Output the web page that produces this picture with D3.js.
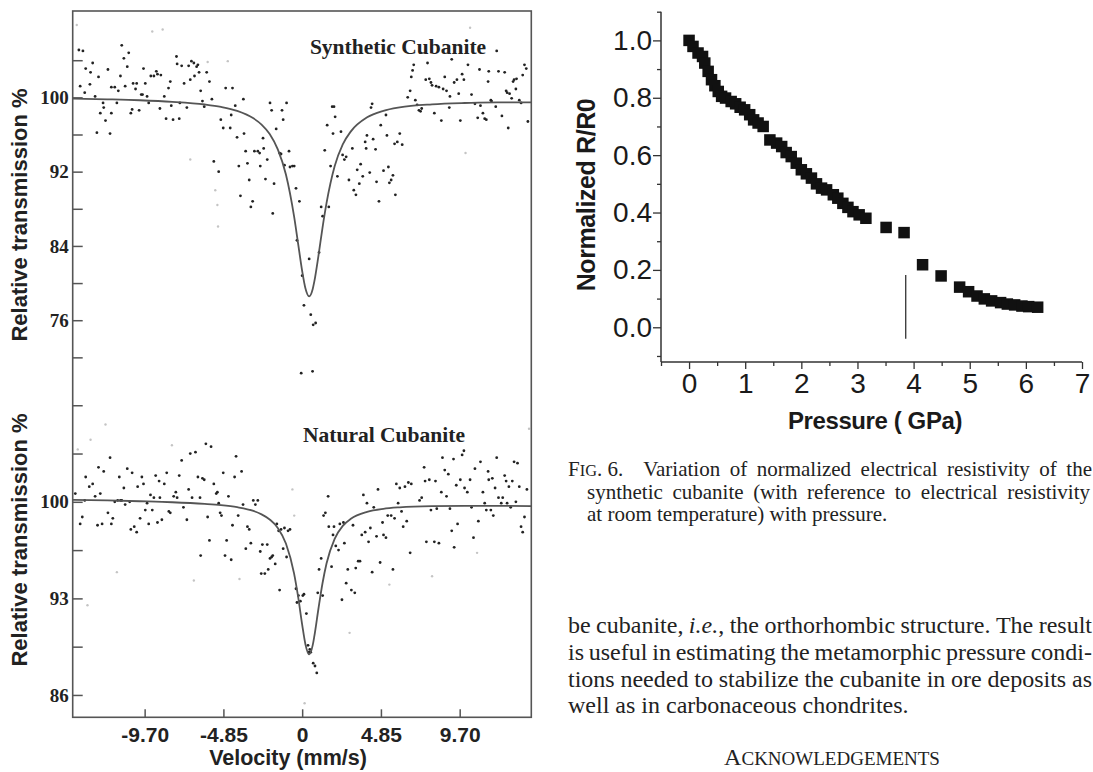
<!DOCTYPE html>
<html><head><meta charset="utf-8">
<script src="https://cdn.jsdelivr.net/npm/d3@7"></script>
<style>html,body{margin:0;padding:0;background:#fff;} svg{display:block;}</style>
</head><body>
<svg id="fig" width="1093" height="772"></svg>
<script>
// ---------- Mössbauer spectra: [velocity mm/s, relative transmission %] ----------
const synthPoints = [[-13.75,105.1],[-13.50,105.0],[-13.67,101.2],[-13.39,100.5],[-13.33,103.1],[-13.03,102.7],[-13.07,101.4],[-12.90,103.7],[-12.75,100.1],[-12.64,96.2],[-12.54,102.2],[-12.43,98.3],[-12.22,98.9],[-12.26,99.4],[-12.11,97.5],[-11.96,103.0],[-11.83,96.1],[-11.75,98.3],[-11.75,101.1],[-11.54,101.1],[-11.41,99.4],[-11.32,100.7],[-11.19,102.3],[-11.11,105.6],[-10.98,104.2],[-10.90,101.2],[-10.77,103.3],[-10.68,104.8],[-10.55,98.3],[-10.47,98.7],[-10.41,101.5],[-10.19,101.5],[-10.26,100.9],[-10.04,98.6],[-9.91,100.3],[-9.83,100.3],[-9.77,103.1],[-9.66,101.5],[-9.55,100.1],[-9.45,99.4],[-9.32,102.3],[-9.13,102.3],[-8.98,102.8],[-8.91,102.5],[-8.76,98.8],[-8.70,102.4],[-8.49,100.1],[-8.38,97.7],[-8.23,101.0],[-8.12,101.7],[-8.06,99.1],[-7.95,97.6],[-7.74,104.4],[-7.70,103.6],[-7.57,97.7],[-7.53,99.4],[-7.42,103.4],[-7.27,101.5],[-7.10,98.9],[-6.99,103.4],[-6.89,101.9],[-6.82,103.9],[-6.67,103.7],[-6.63,102.3],[-6.50,103.3],[-6.42,103.5],[-6.35,102.7],[-6.25,100.7],[-6.14,99.6],[-6.03,99.0],[-5.88,102.7],[-5.71,101.7],[-5.56,99.8],[-5.44,93.1],[-5.14,92.0],[-5.01,97.6],[-4.86,96.7],[-4.71,101.0],[-4.43,96.7],[-4.37,98.1],[-4.29,101.0],[-4.12,99.1],[-4.01,95.7],[-3.90,92.6],[-3.80,89.4],[-3.62,99.8],[-3.58,96.1],[-3.48,94.2],[-3.37,92.9],[-3.26,91.1],[-3.16,88.2],[-3.05,88.8],[-2.94,94.2],[-2.73,94.2],[-2.62,94.0],[-2.58,92.6],[-2.41,95.6],[-2.37,94.5],[-2.26,91.2],[-2.15,93.3],[-1.98,99.4],[-1.88,98.6],[-1.81,87.5],[-1.73,90.7],[-1.60,96.6],[-1.39,94.0],[-1.30,93.9],[-1.24,98.6],[-1.17,97.6],[-1.09,92.7],[-0.96,99.4],[-0.81,94.2],[-0.75,92.5],[-0.60,92.6],[-0.49,92.6],[-0.38,90.2],[-0.17,88.8],[-0.32,84.6],[0.00,80.8],[0.11,77.6],[0.43,82.6],[0.53,76.6],[0.68,75.5],[0.83,75.7],[-0.06,70.3],[0.64,70.5],[1.04,83.3],[1.17,88.2],[1.26,87.2],[1.39,94.3],[1.54,97.0],[1.64,88.2],[1.75,92.6],[1.85,99.0],[1.96,99.0],[1.90,96.1],[2.03,97.9],[2.17,91.5],[2.39,96.3],[2.49,93.8],[2.60,93.3],[2.71,93.6],[2.88,91.1],[3.09,94.5],[3.18,90.0],[3.31,89.5],[3.39,92.2],[3.52,90.7],[3.60,92.8],[3.73,91.5],[3.88,95.2],[3.94,94.5],[3.99,95.9],[4.16,91.9],[4.24,98.9],[4.31,99.3],[4.37,95.5],[4.52,94.4],[4.58,90.9],[4.73,88.8],[4.84,97.0],[5.01,92.1],[5.16,98.1],[5.22,95.9],[5.31,92.5],[5.37,90.8],[5.48,91.1],[5.59,91.6],[5.74,89.5],[5.69,95.0],[5.86,95.2],[6.01,96.1],[6.16,94.9],[6.50,100.0],[6.65,100.7],[6.72,102.2],[6.80,102.9],[6.87,103.5],[6.97,99.7],[7.08,99.2],[7.19,98.6],[7.29,98.5],[7.36,98.8],[7.61,101.9],[7.72,103.7],[7.83,102.0],[7.93,101.6],[8.00,101.3],[8.14,98.3],[8.25,101.2],[8.42,101.1],[8.57,97.5],[8.68,100.9],[8.78,102.2],[8.89,100.7],[9.06,98.9],[9.10,100.1],[9.21,104.1],[9.36,101.6],[9.53,101.9],[9.64,100.4],[9.74,97.5],[9.85,102.5],[9.96,101.9],[10.21,103.5],[10.43,100.3],[10.64,99.3],[10.81,97.8],[10.92,103.0],[10.98,99.1],[11.13,98.3],[11.24,97.7],[11.34,97.6],[11.45,101.7],[11.49,102.8],[11.62,99.7],[11.66,99.6],[11.92,99.0],[11.98,105.0],[12.09,102.8],[12.30,98.0],[12.47,102.7],[12.56,100.7],[12.62,100.5],[12.69,96.7],[12.77,100.4],[12.90,99.9],[12.99,101.7],[13.05,101.9],[13.16,100.9],[13.20,102.0],[13.37,99.7],[13.48,99.4],[13.58,102.4],[13.69,103.5],[13.80,103.1],[13.90,97.4]];
const synthFaint = [[-13.88,107.8],[-9.23,107.1],[-8.59,107.3],[-5.82,103.8],[-6.89,93.3],[-5.35,90.0],[-5.22,88.4],[-5.18,86.1],[-4.58,103.9],[10.06,94.0],[10.34,107.5]];
const synthFit = [[-14.13,99.87],[-12,99.79],[-10,99.69],[-8,99.52],[-6,99.23],[-5,98.97],[-4,98.54],[-3,97.74],[-2.5,97.07],[-2,96.05],[-1.5,94.4],[-1,91.69],[-0.5,87.2],[-0.25,84.26],[0,81.3],[0.2,79.44],[0.43,78.57],[0.65,79.37],[0.75,80.18],[1,82.9],[1.25,85.93],[1.5,88.6],[2,92.57],[2.5,94.93],[3,96.34],[4,97.85],[5,98.55],[6,98.92],[8,99.25],[10,99.39],[12,99.45],[14.11,99.47]];

const naturalPoints = [[-13.97,100.6],[-13.67,98.4],[-13.54,98.9],[-13.39,100.1],[-13.33,101.8],[-13.11,101.1],[-12.90,101.3],[-12.75,100.4],[-12.60,98.3],[-12.54,102.5],[-12.43,100.6],[-12.32,98.4],[-12.22,102.2],[-11.96,99.2],[-11.83,103.2],[-11.75,98.4],[-11.66,98.8],[-11.54,100.0],[-11.36,100.1],[-11.26,101.8],[-11.19,100.1],[-11.11,100.1],[-10.98,101.0],[-10.90,99.8],[-10.77,102.4],[-10.62,100.0],[-10.55,98.0],[-10.47,102.1],[-10.34,98.2],[-10.19,97.8],[-10.13,101.1],[-9.98,98.8],[-9.87,101.8],[-9.77,101.3],[-9.66,99.4],[-9.55,99.9],[-9.45,98.4],[-9.34,100.5],[-9.23,99.4],[-9.13,100.3],[-9.02,101.9],[-8.91,98.5],[-8.81,101.5],[-8.76,100.3],[-8.64,98.7],[-8.49,101.3],[-8.34,102.1],[-8.21,99.3],[-8.12,99.2],[-7.91,100.4],[-7.78,100.7],[-7.70,100.3],[-7.57,101.9],[-7.42,103.0],[-7.31,99.6],[-7.10,98.7],[-6.99,100.9],[-6.89,103.5],[-6.78,100.3],[-6.57,103.6],[-6.42,101.8],[-6.29,100.3],[-6.25,96.1],[-6.14,101.7],[-6.03,101.6],[-5.93,104.2],[-5.82,98.9],[-5.71,97.2],[-5.61,104.0],[-5.44,101.3],[-5.29,100.6],[-5.22,100.7],[-5.14,99.9],[-5.05,99.2],[-4.97,99.0],[-4.86,102.1],[-4.75,96.1],[-4.65,97.2],[-4.54,100.4],[-4.37,95.8],[-4.29,98.3],[-4.16,101.8],[-4.07,103.3],[-3.94,99.0],[-3.73,102.2],[-3.64,99.8],[-3.47,96.6],[-3.37,98.2],[-3.26,98.0],[-3.16,97.0],[-3.01,100.1],[-2.88,99.8],[-2.73,100.1],[-2.58,96.4],[-2.52,94.8],[-2.45,96.9],[-2.30,94.8],[-2.15,96.9],[-2.09,95.1],[-1.98,95.9],[-1.88,96.0],[-1.81,96.1],[-1.66,95.5],[-1.56,98.4],[-1.45,97.9],[-1.39,93.6],[-1.30,98.0],[-1.17,96.6],[-1.09,98.1],[-0.96,96.0],[-0.87,97.9],[-0.75,98.0],[-0.38,93.7],[-0.32,92.7],[-0.23,93.2],[-0.11,92.8],[0.04,93.2],[0.11,93.3],[0.26,91.9],[0.36,89.6],[0.41,89.1],[0.47,89.3],[0.53,89.1],[0.68,88.3],[0.79,88.1],[0.90,87.6],[0.96,93.4],[1.04,95.1],[1.17,95.9],[1.26,93.2],[1.32,99.0],[1.43,99.2],[1.60,100.4],[1.64,98.2],[1.81,95.3],[1.90,97.6],[1.96,98.2],[2.07,96.8],[2.24,96.5],[2.32,98.4],[2.45,92.9],[2.54,98.5],[2.60,97.0],[2.71,94.1],[2.81,95.1],[3.03,93.6],[3.13,98.3],[3.24,93.4],[3.30,95.2],[3.45,95.7],[3.56,95.7],[3.67,97.6],[3.77,100.5],[3.88,97.8],[3.99,99.9],[4.09,97.1],[4.20,98.1],[4.31,94.9],[4.41,99.6],[4.58,97.5],[4.67,100.9],[4.80,95.6],[4.95,98.5],[5.01,97.6],[5.16,97.4],[5.27,99.0],[5.48,99.0],[5.59,95.1],[5.69,98.8],[5.80,101.3],[5.91,99.9],[6.01,101.0],[6.12,99.3],[6.22,98.2],[6.33,101.1],[6.44,98.6],[6.54,101.4],[6.65,96.3],[6.72,101.3],[7.23,100.1],[7.36,100.3],[7.51,102.5],[7.57,101.5],[7.65,97.1],[7.83,101.6],[7.93,99.4],[8.14,97.1],[8.21,101.5],[8.29,99.5],[8.42,97.0],[8.57,100.7],[8.64,103.2],[8.78,102.3],[8.89,100.4],[9.00,102.0],[9.10,99.5],[9.21,97.9],[9.32,103.1],[9.36,96.7],[9.49,101.2],[9.57,98.4],[9.74,101.6],[9.85,103.4],[9.96,103.7],[10.00,101.0],[10.17,100.7],[10.34,101.6],[10.43,99.6],[10.55,97.4],[10.64,102.4],[10.85,98.6],[10.98,102.9],[11.13,100.7],[11.24,99.9],[11.34,99.4],[11.45,102.2],[11.49,101.6],[11.62,99.4],[11.71,101.7],[11.77,99.0],[11.88,101.0],[11.98,103.2],[12.09,100.3],[12.26,99.9],[12.35,100.3],[12.47,101.9],[12.56,101.5],[12.62,99.9],[12.73,101.1],[12.84,99.6],[12.94,101.5],[13.05,102.9],[13.16,100.0],[13.26,102.8],[13.37,101.1],[13.48,98.2],[13.58,97.8],[13.69,98.9],[13.84,100.9]];
const naturalFaint = [[-13.82,103.8],[-13.22,92.5],[-13.03,104.5],[-12.11,105.6],[-11.41,94.9],[-8.02,104.1],[-6.67,94.3],[-3.86,94.4],[-0.60,100.9],[-0.49,99.0],[2.92,90.5],[5.37,94.0],[8.00,94.6],[10.77,96.3],[13.97,105.3],[0.15,85.4]];
const naturalFit = [[-14.13,100.14],[-12,100.10],[-10,100.04],[-8,99.97],[-6,99.85],[-5,99.76],[-4,99.61],[-3,99.34],[-2.5,99.09],[-2,98.72],[-1.5,98.11],[-1,96.98],[-0.5,94.81],[-0.25,93.12],[0,91.10],[0.2,89.68],[0.43,88.95],[0.65,89.61],[0.75,90.26],[1,92.23],[1.25,94.08],[1.5,95.53],[2,97.32],[2.5,98.26],[3,98.77],[4,99.27],[5,99.49],[6,99.60],[8,99.69],[10,99.71],[12,99.71],[14.11,99.69]];

const velocityTicks = [-9.70, -4.85, 0, 4.85, 9.70];
const velocityTickLabels = ["-9.70", "-4.85", "0", "4.85", "9.70"];
const synthTicks = [72, 76, 80, 84, 88, 92, 96, 100, 104];
const synthTickLabels = [76, 84, 92, 100];
const naturalTicks = [86, 89.5, 93, 96.5, 100, 103.5, 107];
const naturalTickLabels = [86, 93, 100];

// ---------- resistivity under pressure ----------
const pressure = [0.00,0.07,0.16,0.24,0.28,0.34,0.40,0.46,0.52,0.58,0.65,0.75,0.83,0.91,0.99,1.08,1.15,1.23,1.32,1.44,1.56,1.65,1.73,1.82,1.91,2.00,2.09,2.18,2.27,2.36,2.45,2.57,2.65,2.74,2.83,2.92,3.03,3.15,3.51,3.83,4.16,4.49,4.82,4.98,5.13,5.26,5.39,5.55,5.67,5.80,5.93,6.05,6.21];
const resistance = [1.000,0.979,0.956,0.944,0.921,0.892,0.863,0.842,0.822,0.805,0.799,0.787,0.779,0.767,0.758,0.741,0.723,0.712,0.700,0.653,0.642,0.630,0.609,0.595,0.572,0.549,0.535,0.520,0.500,0.485,0.479,0.462,0.450,0.432,0.418,0.403,0.392,0.380,0.348,0.330,0.218,0.179,0.140,0.124,0.109,0.099,0.092,0.086,0.081,0.078,0.074,0.072,0.070];
const pressureTicks = [0, 1, 2, 3, 4, 5, 6, 7];
const pressureMinorTicks = [-0.5, 0.5, 1.5, 2.5, 3.5, 4.5, 5.5, 6.5];
const resistanceTicks = [0, 0.2, 0.4, 0.6, 0.8, 1.0];
const resistanceMinorTicks = [-0.1, 0.1, 0.3, 0.5, 0.7, 0.9, 1.1];
const transitionMark = [{p: 3.86, from: -0.04, to: 0.182}];

// ---------- page text ----------
const captionLines = [
  "Variation of normalized electrical resistivity of the",
  "synthetic cubanite (with reference to electrical resistivity",
  "at room temperature) with pressure."
];
const bodyLines = [
  ["be", "cubanite,", "*i.e.*,", "the", "orthorhombic", "structure.", "The", "result"],
  ["is", "useful", "in", "estimating", "the", "metamorphic", "pressure", "condi-"],
  ["tions", "needed", "to", "stabilize", "the", "cubanite", "in", "ore", "deposits", "as"],
  ["well", "as", "in", "carbonaceous", "chondrites."]
];

const svg = d3.select("#fig");
svg.append("rect").attr("width", 1093).attr("height", 772).attr("fill", "#fff");

// ================= left figure: two stacked spectra =================
const frame = {x0: 72.7, x1: 531.3, y0: 11, y1: 717.3, split: 388};
const xV = d3.scaleLinear().domain([-14.13, 14.11]).range([frame.x0, frame.x1]);
const yS = d3.scaleLinear().domain([68.7, 109.3]).range([frame.split, frame.y0]);
const yN = d3.scaleLinear().domain([84.38, 108.25]).range([frame.y1, frame.split]);

const serif = "'Liberation Serif','Times New Roman',serif";
const sans = "'Liberation Sans',Arial,sans-serif";

const left = svg.append("g");

function drawSpectrum(points, faint, fit, yScale) {
  left.append("g").selectAll("circle").data(faint).join("circle")
    .attr("cx", d => xV(d[0])).attr("cy", d => yScale(d[1]))
    .attr("r", 1.2).attr("fill", "#c4c4c4");
  left.append("g").selectAll("circle").data(points).join("circle")
    .attr("cx", d => xV(d[0])).attr("cy", d => yScale(d[1]))
    .attr("r", 1.4).attr("fill", "#222");
  const line = d3.line().x(d => xV(d[0])).y(d => yScale(d[1])).curve(d3.curveMonotoneX);
  left.append("path").datum(fit).attr("d", line)
    .attr("fill", "none").attr("stroke", "#555").attr("stroke-width", 1.8);
}
drawSpectrum(synthPoints, synthFaint, synthFit, yS);
drawSpectrum(naturalPoints, naturalFaint, naturalFit, yN);

function styleAxis(g, family, size, weight) {
  g.select(".domain").remove();
  g.selectAll(".tick line").attr("stroke", "#555").attr("stroke-width", 1.5);
  g.selectAll(".tick text").attr("fill", "#222").attr("font-family", family)
    .attr("font-size", size).attr("font-weight", weight);
}

left.append("g").attr("transform", `translate(${frame.x0},0)`)
  .call(d3.axisLeft(yS).tickValues(synthTicks).tickSize(-10).tickPadding(4)
    .tickFormat(d => synthTickLabels.includes(d) ? d : ""))
  .call(g => styleAxis(g, serif, 19, "bold"));
left.append("g").attr("transform", `translate(${frame.x0},0)`)
  .call(d3.axisLeft(yN).tickValues(naturalTicks).tickSize(-10).tickPadding(4)
    .tickFormat(d => naturalTickLabels.includes(d) ? d : ""))
  .call(g => styleAxis(g, serif, 19, "bold"));
left.append("g").attr("transform", `translate(0,${frame.y1})`)
  .call(d3.axisBottom(xV).tickValues(velocityTicks).tickSize(-8).tickPadding(10)
    .tickFormat((d, i) => velocityTickLabels[i]))
  .call(g => styleAxis(g, sans, 21, "bold"));

left.append("rect").attr("x", frame.x0).attr("y", frame.y0)
  .attr("width", frame.x1 - frame.x0).attr("height", frame.y1 - frame.y0)
  .attr("fill", "none").attr("stroke", "#555").attr("stroke-width", 1.6);

left.append("text").attr("x", 398).attr("y", 54).attr("text-anchor", "middle")
  .attr("font-family", serif).attr("font-weight", "bold").attr("font-size", 21.5)
  .attr("fill", "#222").text("Synthetic Cubanite");
left.append("text").attr("x", 384).attr("y", 442).attr("text-anchor", "middle")
  .attr("font-family", serif).attr("font-weight", "bold").attr("font-size", 21.5)
  .attr("fill", "#222").text("Natural Cubanite");

[215, 540].forEach(cy => {
  left.append("text").attr("transform", `translate(19,${cy}) rotate(-90)`)
    .attr("text-anchor", "middle").attr("dominant-baseline", "central")
    .attr("font-family", sans).attr("font-weight", "bold").attr("font-size", 22)
    .attr("fill", "#222").text("Relative transmission %");
});
left.append("text").attr("x", 288).attr("y", 765).attr("text-anchor", "middle")
  .attr("font-family", sans).attr("font-weight", "bold").attr("font-size", 21.5)
  .attr("fill", "#222").text("Velocity (mm/s)");

// ================= right figure: normalized resistivity =================
const axisY = 362;
const xP = d3.scaleLinear().domain([-0.5, 7.0]).range([661, 1082]);
const yR = d3.scaleLinear().domain([-0.121, 1.1]).range([axisY, 11.7]);
const right = svg.append("g");

function styleRightAxis(g, withText) {
  g.select(".domain").remove();
  g.selectAll(".tick line").attr("stroke", "#333").attr("stroke-width", 1.3);
  if (withText) g.selectAll(".tick text").attr("fill", "#1a1a1a")
    .attr("font-family", sans).attr("font-size", 28);
}
right.append("g").attr("transform", "translate(661,0)")
  .call(d3.axisLeft(yR).tickValues(resistanceMinorTicks).tickSize(4).tickFormat(""))
  .call(g => styleRightAxis(g, false));
right.append("g").attr("transform", "translate(661,0)")
  .call(d3.axisLeft(yR).tickValues(resistanceTicks).tickSize(8).tickPadding(1).tickFormat(d3.format(".1f")))
  .call(g => styleRightAxis(g, true));
right.append("g").attr("transform", `translate(0,${axisY})`)
  .call(d3.axisBottom(xP).tickValues(pressureMinorTicks).tickSize(4).tickFormat(""))
  .call(g => styleRightAxis(g, false));
right.append("g").attr("transform", `translate(0,${axisY})`)
  .call(d3.axisBottom(xP).tickValues(pressureTicks).tickSize(7).tickPadding(4))
  .call(g => styleRightAxis(g, true));
right.append("line").attr("x1", 661).attr("x2", 661).attr("y1", yR.range()[1]).attr("y2", axisY)
  .attr("stroke", "#333").attr("stroke-width", 1.5);
right.append("line").attr("x1", 661).attr("x2", 1082).attr("y1", axisY).attr("y2", axisY)
  .attr("stroke", "#333").attr("stroke-width", 1.5);

right.append("g").selectAll("line").data(transitionMark).join("line")
  .attr("x1", d => xP(d.p)).attr("x2", d => xP(d.p))
  .attr("y1", d => yR(d.to)).attr("y2", d => yR(d.from))
  .attr("stroke", "#222").attr("stroke-width", 1.2);

const sq = 11.5;
right.append("g").selectAll("rect").data(pressure.map((p, i) => [p, resistance[i]])).join("rect")
  .attr("x", d => xP(d[0]) - sq / 2).attr("y", d => yR(d[1]) - sq / 2)
  .attr("width", sq).attr("height", sq).attr("fill", "#111");

right.append("text").attr("x", 875).attr("y", 429).attr("text-anchor", "middle")
  .attr("font-family", sans).attr("font-weight", "bold").attr("font-size", 24)
  .attr("letter-spacing", -0.4).attr("fill", "#1a1a1a").text("Pressure ( GPa)");
right.append("text").attr("transform", "translate(586,195) rotate(-90)")
  .attr("text-anchor", "middle").attr("dominant-baseline", "central")
  .attr("font-family", sans).attr("font-weight", "bold").attr("font-size", 25)
  .attr("letter-spacing", -0.4).attr("fill", "#1a1a1a").text("Normalized R/R0");

// ================= caption and body text =================
const txt = svg.append("g").attr("fill", "#222").attr("font-family", serif);

// justified line: words spread between x0 and x1
function justify(words, x0, x1, y, size) {
  const nodes = words.map(w => {
    const m = w.match(/^\*(.*)\*(.*)$/);
    const t = txt.append("text").attr("y", y).attr("font-size", size);
    if (m) {
      // italic abbreviation followed by its comma in roman
      t.append("tspan").attr("font-style", "italic").text(m[1]);
      t.append("tspan").text(m[2]);
    } else t.text(w);
    return t;
  });
  const widths = nodes.map(n => n.node().getComputedTextLength());
  const gap = (x1 - x0 - d3.sum(widths)) / (words.length - 1);
  let x = x0;
  nodes.forEach((n, i) => { n.attr("x", x); x += widths[i] + gap; });
}

// caption
const capSize = 21;
const capY = [476, 498.5, 521];
const cap = txt.append("text").attr("x", 568).attr("y", capY[0]).attr("font-size", capSize);
cap.append("tspan").text("F");
cap.append("tspan").attr("font-size", capSize * 0.78).text("IG");
cap.append("tspan").text(". 6.");
const capStart = 568 + cap.node().getComputedTextLength() + 20;
justify(captionLines[0].split(" "), capStart, 1092, capY[0], capSize);
justify(captionLines[1].split(" "), 587, 1090, capY[1], capSize);
txt.append("text").attr("x", 587).attr("y", capY[2]).attr("font-size", capSize).text(captionLines[2]);

// body paragraph
const bodySize = 24;
const bodyY = [633, 660, 686.5, 713];
bodyLines.forEach((words, i) => {
  if (i < 3) justify(words, 568, 1092, bodyY[i], bodySize);
  else txt.append("text").attr("x", 568).attr("y", bodyY[i]).attr("font-size", bodySize).text(words.join(" "));
});

// section heading in small capitals
const ack = txt.append("text").attr("x", 832).attr("y", 765).attr("text-anchor", "middle").attr("font-size", 24);
ack.append("tspan").text("A");
ack.append("tspan").attr("font-size", 19).text("CKNOWLEDGEMENTS");
</script>
</body></html>
